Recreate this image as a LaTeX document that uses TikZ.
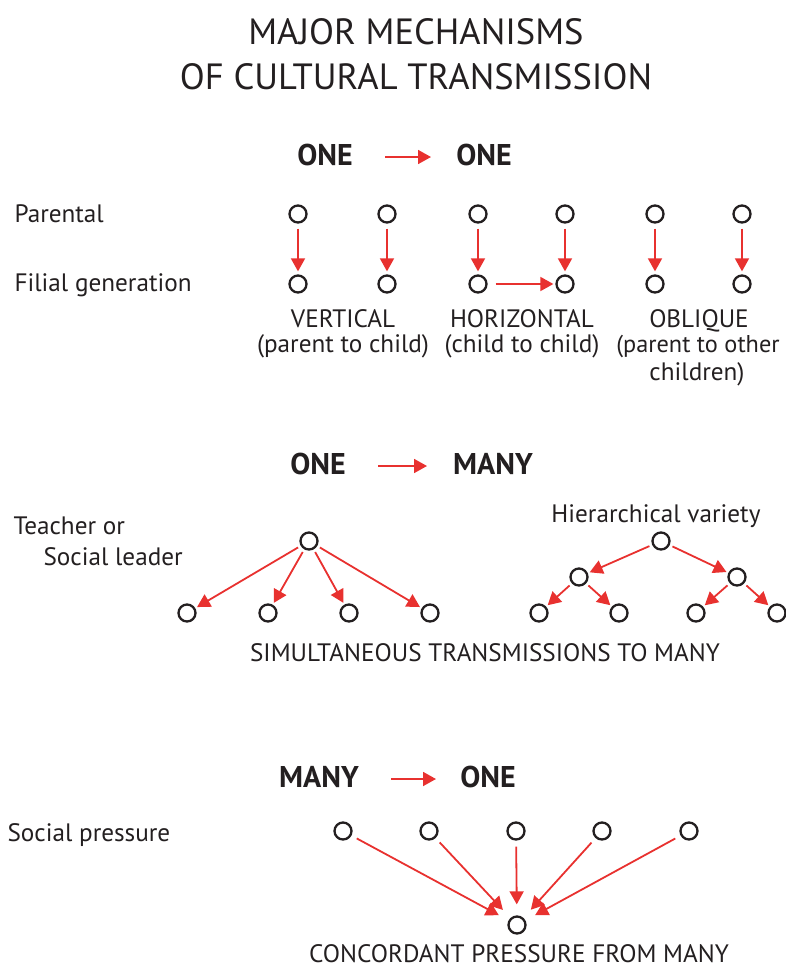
\documentclass[tikz,border=0pt]{standalone}
\usepackage{fontspec}
\setmainfont{PT Sans}
\usetikzlibrary{arrows.meta}
\definecolor{arrred}{HTML}{E8312F}
\definecolor{ink}{HTML}{231F20}
\tikzset{
  dot/.style={circle,draw=ink,line width=2.3pt,minimum size=17pt,inner sep=0pt},
  rarr/.style={draw=arrred,line width=1.8pt,-{Triangle[length=13pt,width=14pt]}},
  ttl/.style={anchor=base,font=\fontsize{36.5}{42}\selectfont,text=ink},
  hdr/.style={anchor=base,font=\fontsize{30}{34}\selectfont\bfseries,text=ink},
  lbl/.style={anchor=base west,font=\fontsize{25.2}{29}\selectfont,text=ink},
  ctxt/.style={anchor=base,font=\fontsize{25.2}{29}\selectfont,text=ink},
}
\begin{document}
\begin{tikzpicture}[x=1pt,y=-1pt]
\useasboundingbox (0,0) rectangle (786,967);
% title
\node[ttl] (t1) at (416,44) {MAJOR MECHANISMS};
\node[ttl] (t2) at (416,89) {OF CULTURAL TRANSMISSION};
% one to one
\node[hdr] (h1a) at (325,165) {ONE};
\node[hdr] (h1b) at (484,165) {ONE};
\coordinate (h1s) at (385,157); \coordinate (h1e) at (431,157);
\draw[rarr] (h1s) -- (h1e);
\node[lbl] (par) at (11,222) {Parental};
\node[lbl] (fil) at (11,291) {Filial generation};
\foreach \i/\x in {1/298,2/387,3/478,4/565,5/655,6/742}{
  \node[dot] (p\i) at (\x,214) {};
  \node[dot] (c\i) at (\x,284) {};
  \draw[rarr,shorten <=5pt,shorten >=3pt] (p\i) -- (c\i);
}
\draw[rarr,shorten <=8pt,shorten >=2pt] (c3) -- (c4);
\node[ctxt] (v1) at (343,327) {VERTICAL};
\node[ctxt] (v2) at (343,352) {(parent to child)};
\node[ctxt] (z1) at (522,327) {HORIZONTAL};
\node[ctxt] (z2) at (522,352) {(child to child)};
\node[ctxt] (o1) at (699,327) {OBLIQUE};
\node[ctxt,font=\fontsize{24.3}{28}\selectfont] (o2) at (698,352) {(parent to other};
\node[ctxt] (o3) at (697,380) {children)};
% one to many
\node[hdr] (h2a) at (318,474) {ONE};
\node[hdr] (h2b) at (493,474) {MANY};
\coordinate (h2s) at (378,466); \coordinate (h2e) at (427,466);
\draw[rarr] (h2s) -- (h2e);
\node[lbl] (tch) at (10,534) {Teacher or};
\node[lbl] (sl) at (40,565) {Social leader};
\node[dot] (r) at (309,541) {};
\foreach \i/\x in {1/187,2/268,3/349,4/430}{
  \node[dot] (l\i) at (\x,613) {};
  \draw[rarr,shorten <=3pt,shorten >=2pt] (r) -- (l\i);
}
\node[ctxt] (hv) at (656,522) {Hierarchical variety};
\node[dot] (hr) at (661,541) {};
\node[dot] (ma) at (579,577) {};
\node[dot] (mb) at (737,577) {};
\node[dot] (la) at (539,613) {};
\node[dot] (lb) at (619,613) {};
\node[dot] (lc) at (696,613) {};
\node[dot] (ld) at (777,613) {};
\draw[rarr,shorten <=3pt,shorten >=2pt] (hr) -- (ma);
\draw[rarr,shorten <=3pt,shorten >=2pt] (hr) -- (mb);
\draw[rarr,shorten <=3pt,shorten >=2pt] (ma) -- (la);
\draw[rarr,shorten <=3pt,shorten >=2pt] (ma) -- (lb);
\draw[rarr,shorten <=3pt,shorten >=2pt] (mb) -- (lc);
\draw[rarr,shorten <=3pt,shorten >=2pt] (mb) -- (ld);
\node[ctxt] (sim) at (485,661) {SIMULTANEOUS TRANSMISSIONS TO MANY};
% many to one
\node[hdr] (h3a) at (319,787) {MANY};
\node[hdr] (h3b) at (488,787) {ONE};
\coordinate (h3s) at (391,779); \coordinate (h3e) at (436,779);
\draw[rarr] (h3s) -- (h3e);
\node[lbl] (sp) at (4,841) {Social pressure};
\node[dot] (b) at (517,925) {};
\foreach \i/\x in {1/343,2/429,3/516,4/602,5/689}{
  \node[dot] (m\i) at (\x,831) {};
  \draw[rarr,shorten <=6pt,shorten >=11pt] (m\i) -- (b);
}
\node[ctxt,inner sep=1pt] (conc) at (519,962) {CONCORDANT PRESSURE FROM MANY};
\end{tikzpicture}
\end{document}
